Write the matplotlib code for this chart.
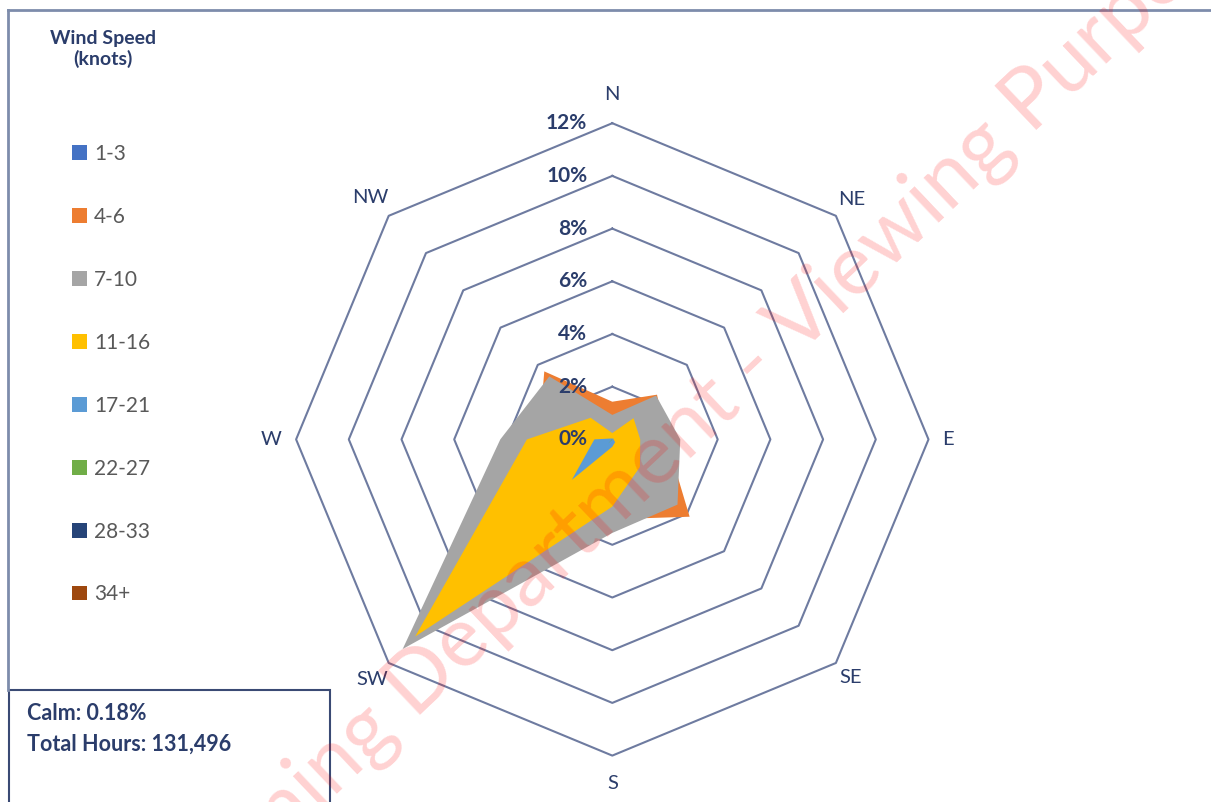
import numpy as np
import matplotlib.pyplot as plt
from matplotlib.patches import Rectangle, Patch
from matplotlib.lines import Line2D

plt.rcParams['font.family'] = ['Lato', 'DejaVu Sans']

directions = ['N', 'NE', 'E', 'SE', 'S', 'SW', 'W', 'NW']
speed_bins = ['1-3', '4-6', '7-10', '11-16', '17-21', '22-27', '28-33', '34+']
colors = ['#4472C4', '#ED7D31', '#A5A5A5', '#FFC000', '#5B9BD5', '#70AD47', '#264478', '#9E480E']

# % of hours, order N, NE, E, SE, S, SW, W, NW
spd_1_3 = [0.20, 0.20, 0.20, 0.30, 0.30, 0.50, 0.30, 0.20]
spd_4_6 = [1.43, 2.40, 2.06, 4.15, 3.03, 4.50, 2.80, 3.65]
spd_7_10 = [0.93, 2.35, 2.58, 3.50, 3.55, 11.25, 4.25, 3.38]
spd_11_16 = [0.24, 1.14, 1.06, 1.48, 2.55, 10.58, 3.24, 1.16]
spd_17_21 = [0.03, 0.05, 0.05, 0.15, 0.28, 2.17, 0.68, 0.05]
spd_22_27 = [0.00, 0.01, 0.00, 0.00, 0.01, 0.22, 0.02, 0.00]
spd_28_33 = [0.00, 0.00, 0.00, 0.00, 0.00, 0.03, 0.00, 0.00]
spd_34p = [0.00, 0.00, 0.00, 0.00, 0.00, 0.01, 0.00, 0.00]
series = [spd_1_3, spd_4_6, spd_7_10, spd_11_16, spd_17_21, spd_22_27, spd_28_33, spd_34p]

rings = [2, 4, 6, 8, 10, 12]
calm_pct = 0.18
total_hours = 131496

navy = '#2B3D6B'
grid_col = '#6E7BA0'

W, H = 1211, 802
fig = plt.figure(figsize=(W / 100, H / 100), dpi=100)
ax = fig.add_axes([0, 0, 1, 1])
cx, cy, s = 612.3, 439.4, 26.35   # centre in px (from top), px per 1%
ax.set_xlim(-cx / s, (W - cx) / s)
ax.set_ylim(-(H - cy) / s, cy / s)
ax.axis('off')

theta = np.deg2rad(np.arange(len(directions)) * 45)

def xy(vals):
    v = np.append(vals, vals[0])
    t = np.append(theta, theta[0])
    return v * np.sin(t), v * np.cos(t)

# octagon grid
for r in rings:
    gx, gy = xy(np.full(len(directions), r))
    ax.plot(gx, gy, color=grid_col, lw=1.5, zorder=1)

# filled radar series, later ones on top
for i, (vals, c) in enumerate(zip(series, colors)):
    fx, fy = xy(vals)
    ax.fill(fx, fy, color=c, lw=0, zorder=2 + i)

# radial labels
for r in [0] + rings:
    ax.annotate(f'{r}%', xy=(0, r), xytext=(-25, 0), textcoords='offset pixels',
                ha='right', va='center', fontsize=15, fontweight='bold',
                color=navy, zorder=20)

# direction labels
lab_r = [13.1, 12.85, 12.75, 12.8, 13.05, 12.9, 12.95, 13.0]
for d, t, r in zip(directions, theta, lab_r):
    ax.text(r * np.sin(t), r * np.cos(t), d, ha='center', va='center',
            fontsize=14.5, color=navy, zorder=20)

def fx_(px):
    return px / W

def fy_(py):
    return 1 - py / H

# legend
fig.text(fx_(103), fy_(49), 'Wind Speed\n(knots)', ha='center', va='center',
         fontsize=14, fontweight='bold', color=navy, linespacing=1.25)
handles = [Patch(facecolor=c, edgecolor='none') for c in colors]
fig.legend(handles, speed_bins, loc='upper left',
           bbox_to_anchor=(fx_(72), fy_(144)), frameon=False,
           fontsize=15, labelcolor='#595959', labelspacing=2.06,
           handlelength=0.7, handleheight=0.7, handletextpad=0.35,
           borderpad=0, borderaxespad=0)

# frame lines
fig.add_artist(Line2D([fx_(8), 1], [fy_(10), fy_(10)], color='#7D8CAB', lw=2))
fig.add_artist(Line2D([fx_(8), fx_(8)], [fy_(10), fy_(690)], color='#7D8CAB', lw=2))
fig.add_artist(Rectangle((fx_(8.5), fy_(830)), fx_(330) - fx_(8.5), fy_(690) - fy_(830),
                         transform=fig.transFigure, fill=False,
                         edgecolor='#3A4A74', lw=1.5))
fig.text(fx_(27), fy_(714), f'Calm: {calm_pct:.2f}%', ha='left', va='center',
         fontsize=15.5, fontweight='bold', color=navy)
fig.text(fx_(27), fy_(744), f'Total Hours: {total_hours:,}', ha='left', va='center',
         fontsize=15.5, fontweight='bold', color=navy)

# watermark
fig.text(fx_(780), fy_(340), 'Planning Department - Viewing Purposes Only',
         ha='center', va='center', rotation=43.5, fontsize=61,
         color='red', alpha=0.18, zorder=50)

fig.savefig('out.png', dpi=100)
